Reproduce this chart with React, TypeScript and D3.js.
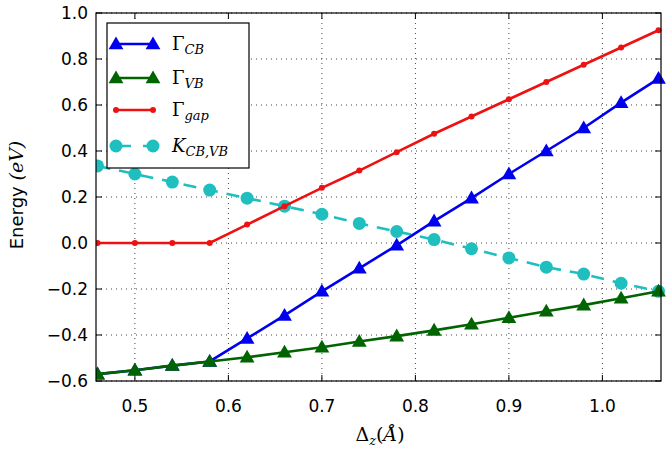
import React, { useEffect, useRef } from 'react';
import * as d3 from 'd3';

const dz = [0.46, 0.5, 0.54, 0.58, 0.62, 0.66, 0.7, 0.74, 0.78, 0.82, 0.86, 0.9, 0.94, 0.98, 1.02, 1.06];
const gammaVB = [-0.57, -0.553, -0.533, -0.515, -0.497, -0.475, -0.453, -0.428, -0.405, -0.38, -0.353, -0.325, -0.297, -0.27, -0.24, -0.21];
const gammaCB = [-0.57, -0.553, -0.533, -0.515, -0.415, -0.315, -0.21, -0.11, -0.01, 0.095, 0.195, 0.3, 0.4, 0.5, 0.61, 0.715];
const gammaGap = [0, 0, 0, 0, 0.08, 0.16, 0.24, 0.315, 0.395, 0.475, 0.55, 0.625, 0.7, 0.775, 0.85, 0.925];
const kCBVB = [0.335, 0.3, 0.265, 0.23, 0.195, 0.16, 0.125, 0.085, 0.05, 0.015, -0.025, -0.065, -0.105, -0.135, -0.175, -0.21];
const xTicks = [0.5, 0.6, 0.7, 0.8, 0.9, 1.0];
const yTicks = [-0.6, -0.4, -0.2, 0.0, 0.2, 0.4, 0.6, 0.8, 1.0];

function EnergyChart() {
  const svgRef = useRef<SVGSVGElement>(null);

  useEffect(() => {
    const svg = d3.select(svgRef.current);
    svg.selectAll('*').remove();

    const left = 96, right = 661, top = 13, bottom = 381;
    const x = d3.scaleLinear().domain([0.46, 1.06]).range([left + 1.5, right - 2.5]);
    const y = d3.scaleLinear().domain([-0.6, 1.0]).range([bottom, top]);

    svg.append('rect').attr('width', 666).attr('height', 452).attr('fill', 'white');

    // grid
    const grid = svg.append('g').attr('stroke', '#444').attr('stroke-width', 1).attr('stroke-dasharray', '1,4');
    xTicks.forEach(t => grid.append('line').attr('x1', x(t)).attr('x2', x(t)).attr('y1', top).attr('y2', bottom));
    yTicks.forEach(t => grid.append('line').attr('x1', left).attr('x2', right).attr('y1', y(t)).attr('y2', y(t)));

    // ticks (inside, all four sides)
    const tk = svg.append('g').attr('stroke', 'black').attr('stroke-width', 1);
    xTicks.forEach(t => {
      tk.append('line').attr('x1', x(t)).attr('x2', x(t)).attr('y1', bottom).attr('y2', bottom - 6);
      tk.append('line').attr('x1', x(t)).attr('x2', x(t)).attr('y1', top).attr('y2', top + 6);
    });
    yTicks.forEach(t => {
      tk.append('line').attr('x1', left).attr('x2', left + 6).attr('y1', y(t)).attr('y2', y(t));
      tk.append('line').attr('x1', right).attr('x2', right - 6).attr('y1', y(t)).attr('y2', y(t));
    });

    const clip = svg.append('defs').append('clipPath').attr('id', 'plotclip');
    clip.append('rect').attr('x', left).attr('y', top - 8).attr('width', right - left + 8).attr('height', bottom - top + 16);

    const plot = svg.append('g').attr('clip-path', 'url(#plotclip)');
    const line = d3.line<number>().x((_, i) => x(dz[i])).y(d => y(d));
    const tri = d3.symbol().type(d3.symbolTriangle).size(95);

    const drawSeries = (vals: number[], color: string, marker: 'tri' | 'dot' | 'circle', dash?: string) => {
      const p = plot.append('path').datum(vals).attr('d', line).attr('fill', 'none')
        .attr('stroke', color).attr('stroke-width', 2.6);
      if (dash) p.attr('stroke-dasharray', dash);
      vals.forEach((v, i) => {
        if (marker === 'tri') {
          plot.append('path').attr('d', tri).attr('transform', `translate(${x(dz[i])},${y(v) + 1})`).attr('fill', color);
        } else {
          plot.append('circle').attr('cx', x(dz[i])).attr('cy', y(v)).attr('r', marker === 'dot' ? 3 : 6.5).attr('fill', color);
        }
      });
    };

    drawSeries(kCBVB, '#1fbfbf', 'circle', '13,9');
    drawSeries(gammaGap, '#ee1111', 'dot');
    drawSeries(gammaCB, '#0000ee', 'tri');
    drawSeries(gammaVB, '#006400', 'tri');

    // frame
    svg.append('rect').attr('x', left).attr('y', top).attr('width', right - left).attr('height', bottom - top)
      .attr('fill', 'none').attr('stroke', 'black').attr('stroke-width', 1.2);

    // tick labels
    const font = 'DejaVu Sans, sans-serif';
    xTicks.forEach(t => svg.append('text').attr('x', x(t)).attr('y', 412).attr('text-anchor', 'middle')
      .attr('font-family', font).attr('font-size', 17).text(d3.format('.1f')(t)));
    yTicks.forEach(t => svg.append('text').attr('x', 88).attr('y', y(t) + 6).attr('text-anchor', 'end')
      .attr('font-family', font).attr('font-size', 17).text(d3.format('.1f')(t).replace('-', '\u2212')));

    // axis labels
    const serif = 'DejaVu Serif, serif';
    const xl = svg.append('text').attr('x', 380).attr('y', 441).attr('text-anchor', 'middle')
      .attr('font-family', serif).attr('font-size', 19);
    xl.append('tspan').text('\u0394');
    xl.append('tspan').attr('font-style', 'italic').attr('font-size', 13).attr('dy', 4).text('z');
    xl.append('tspan').attr('dy', -4).text('(');
    xl.append('tspan').attr('font-style', 'italic').text('\u00c5');
    xl.append('tspan').text(')');

    const yl = svg.append('text').attr('transform', 'translate(23,195) rotate(-90)').attr('text-anchor', 'middle')
      .attr('font-family', font).attr('font-size', 18);
    yl.append('tspan').text('Energy ');
    yl.append('tspan').attr('font-family', serif).attr('font-style', 'italic').attr('font-size', 19).text('(eV)');

    // legend
    const lg = svg.append('g');
    lg.append('rect').attr('x', 107).attr('y', 23).attr('width', 142).attr('height', 145)
      .attr('fill', 'white').attr('stroke', 'black').attr('stroke-width', 1.2);
    const entries = [
      { color: '#0000ee', marker: 'tri', main: '\u0393', sub: 'CB', yy: 44 },
      { color: '#006400', marker: 'tri', main: '\u0393', sub: 'VB', yy: 78 },
      { color: '#ee1111', marker: 'dot', main: '\u0393', sub: 'gap', yy: 110 },
      { color: '#1fbfbf', marker: 'circle', main: 'K', sub: 'CB,VB', yy: 146 },
    ];
    entries.forEach(e => {
      const l = lg.append('line').attr('x1', 116).attr('x2', 153).attr('y1', e.yy).attr('y2', e.yy)
        .attr('stroke', e.color).attr('stroke-width', 2.6);
      if (e.marker === 'circle') l.attr('stroke-dasharray', '9,12').attr('stroke-dashoffset', -6);
      [116, 153].forEach(px => {
        if (e.marker === 'tri') {
          lg.append('path').attr('d', tri).attr('transform', `translate(${px},${e.yy + 1})`).attr('fill', e.color);
        } else {
          lg.append('circle').attr('cx', px).attr('cy', e.yy).attr('r', e.marker === 'dot' ? 3 : 6.5).attr('fill', e.color);
        }
      });
      const t = lg.append('text').attr('x', 172).attr('y', e.yy + 6).attr('font-family', serif).attr('font-size', 18);
      t.append('tspan').attr('font-style', e.main === 'K' ? 'italic' : 'normal').text(e.main);
      t.append('tspan').attr('font-style', 'italic').attr('font-size', 13).attr('dy', 4).text(e.sub);
    });
  }, []);

  return <svg ref={svgRef} width={666} height={452} style={{ display: 'block' }} />;
}

export default function App() {
  return (
    <div style={{ position: 'absolute', left: 0, top: 0 }}>
      <EnergyChart />
    </div>
  );
}
